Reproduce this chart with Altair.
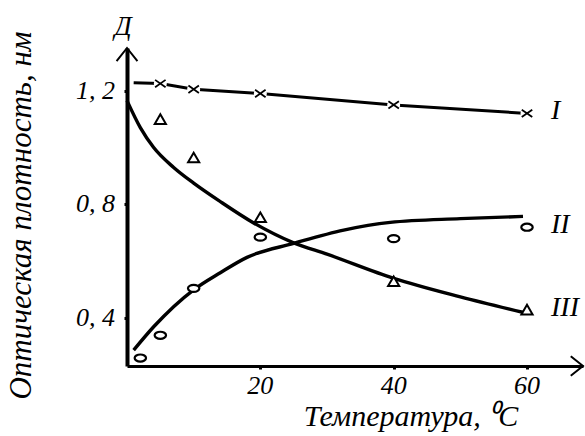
import altair as alt
import pandas as pd

# Measured points (temperature, optical density)
temp_I = [5, 10, 20, 40, 60]
dens_I = [1.225, 1.205, 1.19, 1.15, 1.12]

temp_II = [2, 5, 10, 20, 40, 60]
dens_II = [0.26, 0.34, 0.505, 0.685, 0.68, 0.72]

temp_III = [5, 10, 20, 40, 60]
dens_III = [1.10, 0.965, 0.755, 0.53, 0.43]

# Smoothed curves drawn through the measurements
curve_I_t = [1, 5, 10, 20, 40, 60]
curve_I_d = [1.228, 1.225, 1.205, 1.19, 1.15, 1.12]

curve_II_t = [1, 4, 10, 14, 18, 25, 32.5, 39.5, 50, 59.4]
curve_II_d = [0.288, 0.37, 0.50, 0.56, 0.614, 0.663, 0.71, 0.737, 0.75, 0.758]

curve_III_t = [0, 2, 4, 7, 10, 14, 19, 25, 30, 40, 50, 59.5]
curve_III_d = [1.165, 1.07, 1.0, 0.93, 0.875, 0.81, 0.735, 0.665, 0.625, 0.54, 0.475, 0.42]

series_names = ["I", "II", "III"]

# Axis tick values and captions
x_ticks = [20, 40, 60]
y_ticks = [0.4, 0.8, 1.2]
x_title = "Температура,  ⁰C"
y_title = "Оптическая плотность, нм"
y_letter = "Д"

X_MAX = 68.4
Y_MIN, Y_MAX = 0.232, 1.35
FONT = "Liberation Serif"

xs = alt.Scale(domain=[0, X_MAX], nice=False, zero=False)
ys = alt.Scale(domain=[Y_MIN, Y_MAX], nice=False, zero=False)

axis_style = dict(
    grid=False, domainColor="black", tickColor="black", tickSize=3,
    tickWidth=3, labels=False, title=None,
)


def frame(t, d):
    return pd.DataFrame({"t": t, "d": d})


def enc_x():
    return alt.X("t:Q", scale=xs, axis=alt.Axis(
        values=x_ticks, domainWidth=3, **axis_style))


def enc_y():
    return alt.Y("d:Q", scale=ys, axis=alt.Axis(
        values=y_ticks, domainWidth=4, **axis_style))


def curve(t, d, interp, width):
    return alt.Chart(frame(t, d)).mark_line(
        color="black", strokeWidth=width, interpolate=interp
    ).encode(x=enc_x(), y=enc_y())


def text_style(size, **kw):
    return dict(font=FONT, fontStyle="italic", fontSize=size, color="black", **kw)


line_I = curve(curve_I_t, curve_I_d, "linear", 3)
line_II = curve(curve_II_t, curve_II_d, "monotone", 3.4)
line_III = curve(curve_III_t, curve_III_d, "monotone", 3.4)

# white gaps around the crosses of series I
halo_I = alt.Chart(frame(temp_I, dens_I)).mark_point(
    shape="circle", filled=True, color="white", opacity=1, size=170
).encode(x=enc_x(), y=enc_y())

cross_I = alt.Chart(frame(temp_I, dens_I)).mark_point(
    shape="M-1,-0.7L1,0.7M-1,0.7L1,-0.7", color="black", strokeWidth=1.8,
    size=110, opacity=1
).encode(x=enc_x(), y=enc_y())

circles_II = alt.Chart(frame(temp_II, dens_II)).mark_point(
    shape="M-1,0A1,0.62,0,1,0,1,0A1,0.62,0,1,0,-1,0Z", fill="white",
    stroke="black", strokeWidth=2.2, size=130, opacity=1, fillOpacity=1
).encode(x=enc_x(), y=enc_y())

tri_III = alt.Chart(frame(temp_III, dens_III)).mark_point(
    shape="triangle-up", fill="white", stroke="black", strokeWidth=2,
    size=125, opacity=1, fillOpacity=1
).encode(x=enc_x(), y=enc_y())

# series numerals beside the last measurement of each series
last_points = pd.DataFrame({
    "t": [temp_I[-1], temp_II[-1], temp_III[-1]],
    "d": [dens_I[-1], dens_II[-1], dens_III[-1]],
    "name": series_names,
})
labels = alt.Chart(last_points).mark_text(
    **text_style(28, align="left", baseline="middle", dx=24, dy=-2)
).encode(x=enc_x(), y=enc_y(), text="name:N")

# tick labels with a decimal comma
x_lab = alt.Chart(pd.DataFrame({"t": x_ticks, "s": [str(v) for v in x_ticks]})).mark_text(
    **text_style(26, align="center", baseline="top", dy=7)
).encode(x=alt.X("t:Q", scale=xs), y=alt.datum(Y_MIN, scale=ys), text="s:N")

y_lab = alt.Chart(pd.DataFrame({
    "d": y_ticks, "s": [f"{v:.1f}".replace(".", ", ") for v in y_ticks]
})).mark_text(
    **text_style(26, align="right", baseline="middle", dx=-12)
).encode(x=alt.datum(0, scale=xs), y=alt.Y("d:Q", scale=ys), text="s:N")

# axis captions
x_cap = alt.Chart(pd.DataFrame({"k": [0]})).mark_text(
    text=x_title, **text_style(30, align="center", baseline="alphabetic", dy=60)
).encode(x=alt.datum(X_MAX * 0.623, scale=xs), y=alt.datum(Y_MIN, scale=ys))

# rotated caption: dy shifts it sideways once the text is turned
y_cap = alt.Chart(pd.DataFrame({"k": [0]})).mark_text(
    text=y_title, angle=270,
    **text_style(31, align="center", baseline="middle", dy=-105)
).encode(x=alt.datum(0, scale=xs), y=alt.datum((Y_MIN + Y_MAX) / 2 - 0.03, scale=ys))

axis_letter = alt.Chart(pd.DataFrame({"k": [0]})).mark_text(
    text=y_letter, **text_style(27, baseline="middle", dx=-4, dy=-21)
).encode(x=alt.datum(0, scale=xs), y=alt.datum(Y_MAX, scale=ys))

# open arrowheads at the ends of both axes
arrow_y = alt.Chart(pd.DataFrame({"k": [0]})).mark_point(
    shape="M-0.8,1L0,0L0.8,1", color="black", strokeWidth=2, size=680,
    opacity=1
).encode(x=alt.datum(0, scale=xs), y=alt.datum(Y_MAX, scale=ys))

arrow_x = alt.Chart(pd.DataFrame({"k": [0]})).mark_point(
    shape="M-1,-0.8L0,0L-1,0.8", color="black", strokeWidth=2, size=600,
    opacity=1
).encode(x=alt.datum(X_MAX, scale=xs), y=alt.datum(Y_MIN, scale=ys))

chart = alt.layer(
    line_I, halo_I, cross_I, line_II, line_III, circles_II, tri_III,
    labels, x_lab, y_lab, x_cap, y_cap, axis_letter, arrow_y, arrow_x
).properties(
    width=456, height=318,
    autosize=alt.AutoSizeParams(type="none"),
    padding={"left": 127, "top": 48, "right": 2, "bottom": 70},
    background="white",
).configure_view(
    stroke=None
)

chart.save("out.html", embed_options={"renderer": "svg", "actions": False})
